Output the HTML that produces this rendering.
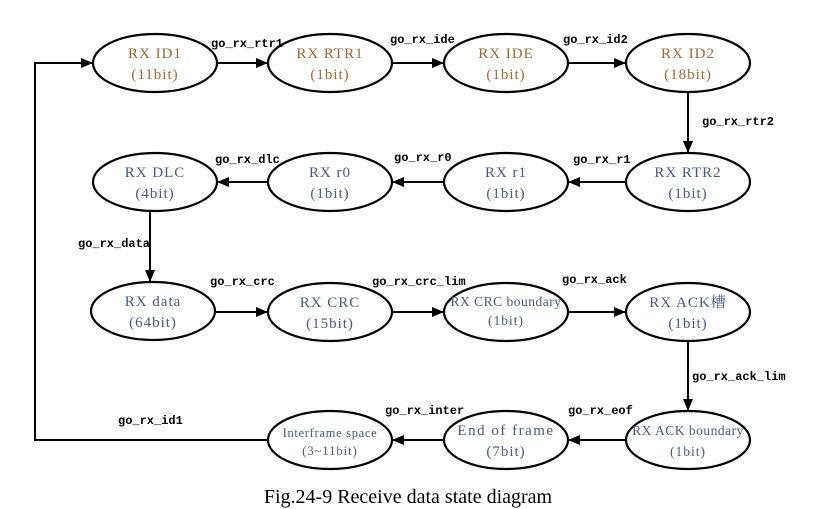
<!DOCTYPE html>
<html><head><meta charset="utf-8"><style>
html,body{margin:0;padding:0;background:#fff;}
svg{display:block}
.st{font-family:"Liberation Serif","Noto Serif CJK SC",serif;font-size:15px;text-anchor:middle;letter-spacing:1px;}
.lb{font-family:"Liberation Mono",monospace;font-weight:bold;font-size:12px;fill:#000;}
</style></head><body>
<svg width="825" height="509" viewBox="0 0 825 509" xmlns="http://www.w3.org/2000/svg">
<defs><marker id="a" markerWidth="12" markerHeight="10" refX="12" refY="5" orient="auto" markerUnits="userSpaceOnUse"><path d="M0,0 L12,5 L0,10 z" fill="#000"/></marker></defs>
<g fill="none" stroke="#000" stroke-width="2.2">
<ellipse cx="155" cy="63" rx="62" ry="29"/>
<ellipse cx="330" cy="63" rx="62" ry="29"/>
<ellipse cx="506" cy="63" rx="62" ry="29"/>
<ellipse cx="688" cy="63" rx="62" ry="29"/>
<ellipse cx="155" cy="182" rx="62" ry="29"/>
<ellipse cx="330" cy="182" rx="62" ry="29"/>
<ellipse cx="506" cy="182" rx="62" ry="29"/>
<ellipse cx="688" cy="182" rx="62" ry="29"/>
<ellipse cx="153" cy="311" rx="62" ry="29"/>
<ellipse cx="330" cy="312" rx="62" ry="29"/>
<ellipse cx="506" cy="312" rx="62" ry="29"/>
<ellipse cx="688" cy="312" rx="62" ry="29"/>
<ellipse cx="330" cy="440" rx="62" ry="29"/>
<ellipse cx="506" cy="440" rx="62" ry="29"/>
<ellipse cx="688" cy="440" rx="62" ry="29"/>
</g>
<g stroke="#000" stroke-width="2" fill="none">
<line x1="217" y1="63" x2="268" y2="63" marker-end="url(#a)"/>
<line x1="392" y1="63" x2="444" y2="63" marker-end="url(#a)"/>
<line x1="568" y1="63" x2="626" y2="63" marker-end="url(#a)"/>
<line x1="688" y1="92" x2="688" y2="153" marker-end="url(#a)"/>
<line x1="626" y1="182" x2="568" y2="182" marker-end="url(#a)"/>
<line x1="444" y1="182" x2="392" y2="182" marker-end="url(#a)"/>
<line x1="268" y1="182" x2="217" y2="182" marker-end="url(#a)"/>
<line x1="150" y1="211" x2="150" y2="282" marker-end="url(#a)"/>
<line x1="215" y1="312" x2="268" y2="312" marker-end="url(#a)"/>
<line x1="392" y1="312" x2="444" y2="312" marker-end="url(#a)"/>
<line x1="568" y1="312" x2="626" y2="312" marker-end="url(#a)"/>
<line x1="688" y1="341" x2="688" y2="411" marker-end="url(#a)"/>
<line x1="626" y1="440" x2="568" y2="440" marker-end="url(#a)"/>
<line x1="444" y1="440" x2="392" y2="440" marker-end="url(#a)"/>
<polyline points="268,440 35,440 35,63 93,63" marker-end="url(#a)"/>
</g>
<g class="st" fill="#9a6a3a">
<text x="155" y="58">RX ID1</text><text x="155" y="79">(11bit)</text>
<text x="330" y="58">RX RTR1</text><text x="330" y="79">(1bit)</text>
<text x="506" y="58">RX IDE</text><text x="506" y="79">(1bit)</text>
<text x="688" y="58">RX ID2</text><text x="688" y="79">(18bit)</text>
</g>
<g class="st" fill="#4a5a7a">
<text x="155" y="177">RX DLC</text><text x="155" y="198">(4bit)</text>
<text x="330" y="177">RX r0</text><text x="330" y="198">(1bit)</text>
<text x="506" y="177">RX r1</text><text x="506" y="198">(1bit)</text>
<text x="688" y="177">RX RTR2</text><text x="688" y="198">(1bit)</text>
<text x="153" y="306">RX data</text><text x="153" y="327">(64bit)</text>
<text x="330" y="307">RX CRC</text><text x="330" y="328">(15bit)</text>
<text x="506" y="306" style="font-size:13.5px;letter-spacing:0.5px">RX CRC boundary</text><text x="506" y="325" style="font-size:13.5px">(1bit)</text>
<text x="688" y="307">RX ACK槽</text><text x="688" y="328">(1bit)</text>
<text x="330" y="437" style="font-size:12.5px;letter-spacing:0.7px">Interframe space</text><text x="330" y="455" style="font-size:12.5px">(3~11bit)</text>
<text x="506" y="435" style="letter-spacing:1.5px">End of frame</text><text x="506" y="456">(7bit)</text>
<text x="688" y="435" style="font-size:13.5px;letter-spacing:0.5px">RX ACK boundary</text><text x="688" y="456" style="font-size:13.5px">(1bit)</text>
</g>
<g class="lb">
<text x="211" y="47">go_rx_rtr1</text>
<text x="390" y="43">go_rx_ide</text>
<text x="563" y="43">go_rx_id2</text>
<text x="702" y="125">go_rx_rtr2</text>
<text x="215" y="163">go_rx_dlc</text>
<text x="394" y="161">go_rx_r0</text>
<text x="573" y="163">go_rx_r1</text>
<text x="78" y="247">go_rx_data</text>
<text x="210" y="285">go_rx_crc</text>
<text x="372" y="285">go_rx_crc_lim</text>
<text x="562" y="283">go_rx_ack</text>
<text x="692" y="380">go_rx_ack_lim</text>
<text x="118" y="424">go_rx_id1</text>
<text x="385" y="414">go_rx_inter</text>
<text x="568" y="414">go_rx_eof</text>
</g>
<text x="408" y="503" style="font-family:'Liberation Serif',serif;font-size:20px;text-anchor:middle" fill="#000">Fig.24-9 Receive data state diagram</text>
</svg>
</body></html>
